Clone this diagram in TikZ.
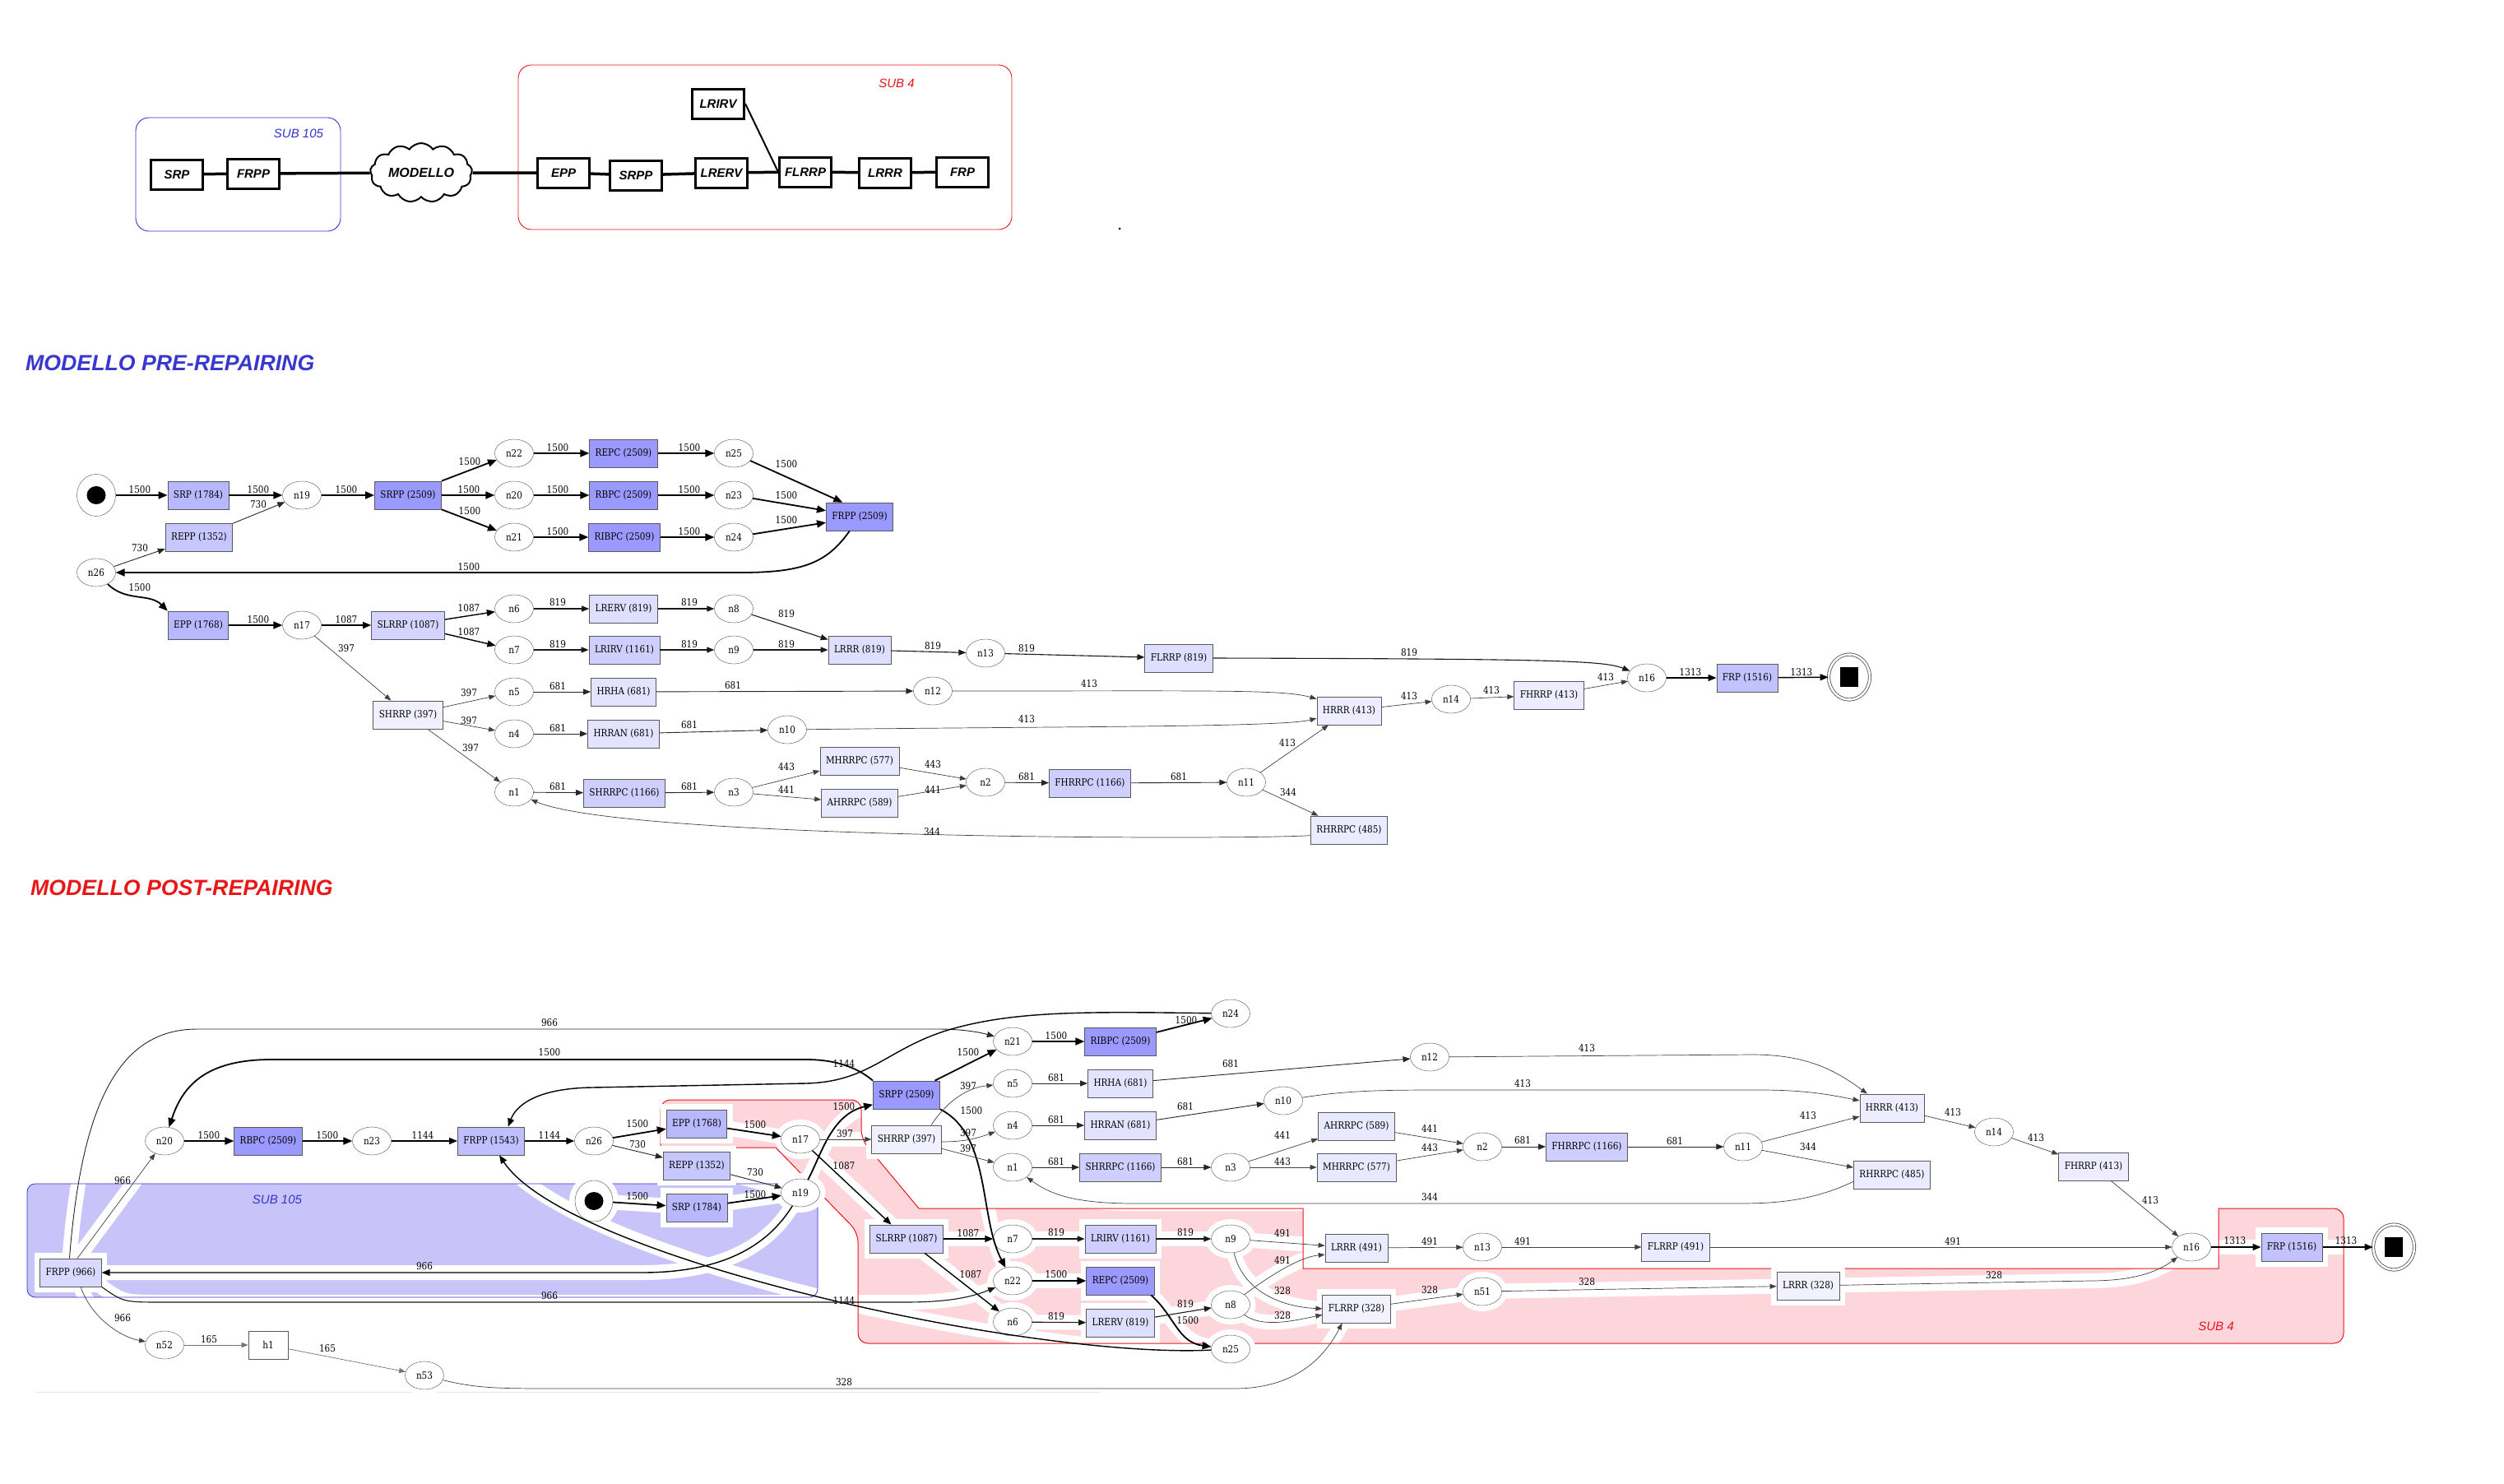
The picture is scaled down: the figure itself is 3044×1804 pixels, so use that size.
\documentclass[tikz,border=0pt]{standalone}
\usepackage{fontspec}
\setmainfont{DejaVu Serif}
\newfontfamily\gvfont{DejaVu Serif}[FakeStretch=0.87]
\newfontfamily\arialfont{Liberation Sans}
\usepackage{tikz}
\usetikzlibrary{arrows.meta, positioning, shapes.geometric, shapes.symbols}
\definecolor{subblue}{RGB}{52,52,204}
\definecolor{subred}{RGB}{232,20,28}
\definecolor{lilac}{RGB}{200,196,250}
\definecolor{blush}{RGB}{252,214,219}
\definecolor{titleblue}{RGB}{56,56,208}
\definecolor{titlered}{RGB}{232,24,24}

\pgfdeclarelayer{bg}
\pgfdeclarelayer{halo}
\pgfdeclarelayer{frame}
\pgfsetlayers{bg,halo,frame,main}

\newcommand{\gvsize}{\gvfont\fontsize{12}{12}\selectfont}
\newcommand{\boldsans}[1]{\arialfont\bfseries\itshape\fontsize{#1}{#1}\selectfont}
\newcommand{\halodraw}[3]{%
  \begin{pgfonlayer}{halo}\draw[band] #2;\end{pgfonlayer}%
  \draw[#1] #2 #3;}

\tikzset{
  st/.style={ellipse, draw=black!70, fill=white, minimum width=47pt, minimum height=34pt, inner sep=0pt, font=\gvsize},
  act/.style={rectangle, draw=black!65, line width=0.8pt, fill=blue!#1!white, minimum height=34pt, inner xsep=7pt, inner ysep=0pt, font=\gvsize},
  startn/.style={ellipse, draw=black!70, fill=white, minimum width=47pt, minimum height=51pt, inner sep=0pt,
    path picture={\fill[black] (path picture bounding box.center) ellipse (11.5pt and 11pt);}},
  endn/.style={ellipse, draw=black!70, line width=0.8pt, double, double distance=2.5pt, fill=white, minimum width=50pt, minimum height=55pt, inner sep=0pt,
    path picture={\fill[black] ([xshift=-11pt,yshift=-12pt]path picture bounding box.center) rectangle ++(22pt,24pt);}},
  hl/.style={preaction={draw=white, line width=14pt}},
  band/.style={draw=white, line width=18pt, line cap=round},
  lbl/.style={font=\gvsize, inner sep=0pt},
  w5/.style={draw=black, line width=1.8pt, -{Triangle[length=11pt,width=9pt]}},
  w4/.style={draw=black, line width=1.4pt, -{Triangle[length=10pt,width=8pt]}},
  w3/.style={draw=black!90, line width=1.1pt, -{Triangle[length=9pt,width=7pt]}},
  w2/.style={draw=black!85, line width=0.9pt, -{Triangle[length=9pt,width=7pt]}},
  w1/.style={draw=black!75, line width=0.7pt, -{Triangle[length=8pt,width=6pt]}},
  w0/.style={draw=black!55, line width=0.7pt, -{Triangle[length=8pt,width=6pt]}},
  blk/.style={rectangle, draw, fill=white, line width=3pt, minimum width=63pt, minimum height=36pt, inner sep=1pt, font=\boldsans{15}},
  link/.style={line width=3.5pt},
  ttl/.style={font=\boldsans{26.7}, anchor=west, inner sep=0pt},
  subl/.style={font=\arialfont\itshape\fontsize{15}{15}\selectfont, inner sep=0pt},
}

\begin{document}
\begin{tikzpicture}[x=1pt,y=-1pt]
\useasboundingbox (0,0) rectangle (3044,1804);

% schema dei sottosistemi
\draw[subblue, line width=0.9pt, rounded corners=16pt] (165,143) rectangle (414,281);
\draw[subred, line width=0.9pt, rounded corners=16pt] (630,79) rectangle (1230,279);
\node[subl, text=subblue] (sub105a) at (363,162) {SUB 105};
\node[subl, text=subred] (sub4a) at (1090,101) {SUB 4};
\node[blk] (sSRP) at (215,212) {SRP};
\node[blk] (sFRPP) at (308,211) {FRPP};
\node[cloud, cloud puffs=13, cloud puff arc=110, aspect=1.9, draw, fill=white, line width=2pt, minimum width=124pt, minimum height=66pt, inner sep=0pt, font=\boldsans{16}] (sMod) at (512,210) {MODELLO};
\node[blk] (sEPP) at (685,210) {EPP};
\node[blk] (sSRPP) at (773,213) {SRPP};
\node[blk] (sLRERV) at (877,210) {LRERV};
\node[blk] (sFLRRP) at (979,209) {FLRRP};
\node[blk] (sLRRR) at (1076,210) {LRRR};
\node[blk] (sFRP) at (1170,209) {FRP};
\node[blk] (sLRIRV) at (873,126) {LRIRV};
\draw[link] (sSRP) -- (sFRPP) (sFRPP) -- (sMod) (sMod) -- (sEPP) (sEPP) -- (sSRPP)
  (sSRPP) -- (sLRERV) (sLRERV) -- (sFLRRP) (sFLRRP) -- (sLRRR) (sLRRR) -- (sFRP);
\draw[line width=2pt] (sLRIRV.east) -- (sFLRRP.west);
\fill (1361,278) circle (1.5pt);

% titoli
\node[ttl, text=titleblue] (ttlPre) at (31,441) {MODELLO PRE-REPAIRING};
\node[ttl, text=titlered] (ttlPost) at (37,1079) {MODELLO POST-REPAIRING};

% modello pre-repairing
\node[startn] (pS) at (117,602) {};
\node[act=28] (pSRP) at (241,602) {SRP (1784)};
\node[st] (p19) at (367,602) {n19};
\node[act=40] (pSRPP) at (496,602) {SRPP (2509)};
\node[st] (p22) at (625,551) {n22};
\node[st] (p20) at (625,602) {n20};
\node[st] (p21) at (625,653) {n21};
\node[act=40] (pREPC) at (758,551) {REPC (2509)};
\node[act=40] (pRBPC) at (758,602) {RBPC (2509)};
\node[act=40] (pRIBPC) at (759,653) {RIBPC (2509)};
\node[st] (p25) at (892,551) {n25};
\node[st] (p23) at (892,602) {n23};
\node[st] (p24) at (892,653) {n24};
\node[act=40] (pFRPP) at (1045,628) {FRPP (2509)};
\node[act=22] (pREPP) at (242,653) {REPP (1352)};
\node[st] (p26) at (117,696) {n26};
\node[act=28] (pEPP) at (241,760) {EPP (1768)};
\node[st] (p17) at (367,760) {n17};
\node[act=17] (pSLRRP) at (496,760) {SLRRP (1087)};
\node[st] (p6) at (625,740) {n6};
\node[st] (p7) at (625,790) {n7};
\node[act=13] (pLRERV) at (758,740) {LRERV (819)};
\node[act=19] (pLRIRV) at (759,790) {LRIRV (1161)};
\node[st] (p8) at (892,740) {n8};
\node[st] (p9) at (892,790) {n9};
\node[act=13] (pLRRR) at (1045,790) {LRRR (819)};
\node[st] (p13) at (1198,794) {n13};
\node[act=13] (pFLRRP) at (1433,800) {FLRRP (819)};
\node[act=6] (pSHRRP) at (496,869) {SHRRP (397)};
\node[st] (p5) at (625,841) {n5};
\node[st] (p4) at (625,892) {n4};
\node[st] (p1) at (625,963) {n1};
\node[act=11] (pHRHA) at (758,841) {HRHA (681)};
\node[act=11] (pHRRAN) at (758,892) {HRRAN (681)};
\node[st] (p10) at (957,887) {n10};
\node[st] (p12) at (1134,840) {n12};
\node[act=19] (pSHRRPC) at (759,964) {SHRRPC (1166)};
\node[st] (p3) at (892,963) {n3};
\node[act=9] (pMHRRPC) at (1045,925) {MHRRPC (577)};
\node[act=9] (pAHRRPC) at (1045,976) {AHRRPC (589)};
\node[st] (p2) at (1198,951) {n2};
\node[act=19] (pFHRRPC) at (1325,952) {FHRRPC (1166)};
\node[st] (p11) at (1515,951) {n11};
\node[act=8] (pRHRRPC) at (1640,1009) {RHRRPC (485)};
\node[act=7] (pHRRR) at (1640,864) {HRRR (413)};
\node[st] (p14) at (1764,850) {n14};
\node[act=7] (pFHRRP) at (1883,845) {FHRRP (413)};
\node[st] (p16) at (2002,824) {n16};
\node[act=24] (pFRP) at (2124,824) {FRP (1516)};
\node[endn] (pE) at (2248,823) {};

\draw[w5] (pS) -- (pSRP) node[lbl] at (170,595) {1500};
\draw[w5] (pSRP) -- (p19) node[lbl] at (314,595) {1500};
\draw[w2] (pREPP) -- (p19) node[lbl] at (314,613) {730};
\draw[w5] (p19) -- (pSRPP) node[lbl] at (421,595) {1500};
\draw[w5] (pSRPP.north east) -- (p22) node[lbl] at (571,561) {1500};
\draw[w5] (pSRPP) -- (p20) node[lbl] at (570,595) {1500};
\draw[w5] (pSRPP.south east) -- (p21) node[lbl] at (571,621) {1500};
\draw[w5] (p22) -- (pREPC) node[lbl] at (678,544) {1500};
\draw[w5] (p20) -- (pRBPC) node[lbl] at (678,595) {1500};
\draw[w5] (p21) -- (pRIBPC) node[lbl] at (678,646) {1500};
\draw[w5] (pREPC) -- (p25) node[lbl] at (838,544) {1500};
\draw[w5] (pRBPC) -- (p23) node[lbl] at (838,595) {1500};
\draw[w5] (pRIBPC) -- (p24) node[lbl] at (838,646) {1500};
\draw[w5] (p25) -- (pFRPP.140) node[lbl] at (956,564) {1500};
\draw[w5] (p23) -- (pFRPP.170) node[lbl] at (956,602) {1500};
\draw[w5] (p24) -- (pFRPP.190) node[lbl] at (956,632) {1500};
\draw[w5] (pFRPP.235) .. controls (1005,685) and (975,696) .. (900,696) -- (p26) node[lbl] at (570,689) {1500};
\draw[w2] (p26) -- (pREPP) node[lbl] at (170,666) {730};
\draw[w5] (p26) to[out=-45,in=135] (pEPP.north west) node[lbl] at (170,714) {1500};
\draw[w5] (pEPP) -- (p17) node[lbl] at (314,753) {1500};
\draw[w4] (p17) -- (pSLRRP) node[lbl] at (421,753) {1087};
\draw[w1] (p17) -- (pSHRRP) node[lbl] at (421,788) {397};
\draw[w4] (pSLRRP) -- (p6) node[lbl] at (570,739) {1087};
\draw[w4] (pSLRRP) -- (p7) node[lbl] at (570,768) {1087};
\draw[w3] (p6) -- (pLRERV) node[lbl] at (678,732) {819};
\draw[w3] (p7) -- (pLRIRV) node[lbl] at (678,783) {819};
\draw[w3] (pLRERV) -- (p8) node[lbl] at (838,732) {819};
\draw[w3] (pLRIRV) -- (p9) node[lbl] at (838,783) {819};
\draw[w3] (p8) -- (pLRRR) node[lbl] at (956,746) {819};
\draw[w3] (p9) -- (pLRRR) node[lbl] at (956,783) {819};
\draw[w3] (pLRRR) -- (p13) node[lbl] at (1134,785) {819};
\draw[w3] (p13) -- (pFLRRP) node[lbl] at (1248,788) {819};
\draw[w3] (pFLRRP.east) .. controls (1890,801) and (1950,803) .. (p16) node[lbl] at (1713,793) {819};
\draw[w1] (pSHRRP) -- (p5) node[lbl] at (570,842) {397};
\draw[w1] (pSHRRP) -- (p4) node[lbl] at (570,876) {397};
\draw[w1] (pSHRRP) -- (p1) node[lbl] at (572,909) {397};
\draw[w2] (p5) -- (pHRHA) node[lbl] at (678,834) {681};
\draw[w2] (p4) -- (pHRRAN) node[lbl] at (678,885) {681};
\draw[w2] (p1) -- (pSHRRPC) node[lbl] at (678,956) {681};
\draw[w2] (pHRHA) -- (p12) node[lbl] at (891,833) {681};
\draw[w2] (pHRRAN) -- (p10) node[lbl] at (838,881) {681};
\draw[w2] (pSHRRPC) -- (p3) node[lbl] at (838,956) {681};
\draw[w1] (p3) -- (pMHRRPC) node[lbl] at (956,932) {443};
\draw[w1] (p3) -- (pAHRRPC) node[lbl] at (956,960) {441};
\draw[w1] (pMHRRPC) -- (p2) node[lbl] at (1134,929) {443};
\draw[w1] (pAHRRPC) -- (p2) node[lbl] at (1134,960) {441};
\draw[w2] (p2) -- (pFHRRPC) node[lbl] at (1248,944) {681};
\draw[w2] (pFHRRPC) -- (p11) node[lbl] at (1433,944) {681};
\draw[w1] (p11) -- (pHRRR) node[lbl] at (1565,903) {413};
\draw[w1] (p11) -- (pRHRRPC) node[lbl] at (1566,963) {344};
\draw[w1] (pRHRRPC.188) .. controls (1520,1021) and (760,1021) .. (p1) node[lbl] at (1133,1011) {344};
\draw[w1] (p12) .. controls (1480,840) and (1560,838) .. (pHRRR.160) node[lbl] at (1324,831) {413};
\draw[w1] (p10) .. controls (1300,883) and (1560,884) .. (pHRRR.193) node[lbl] at (1248,874) {413};
\draw[w1] (pHRRR) -- (p14) node[lbl] at (1713,846) {413};
\draw[w1] (p14) -- (pFHRRP) node[lbl] at (1813,839) {413};
\draw[w1] (pFHRRP) -- (p16) node[lbl] at (1952,823) {413};
\draw[w4] (p16) -- (pFRP) node[lbl] at (2055,817) {1313};
\draw[w4] (pFRP) -- (pE) node[lbl] at (2190,817) {1313};

% modello post-repairing: sottosistemi
\begin{pgfonlayer}{bg}
  \fill[lilac, rounded corners=10pt] (33,1439) rectangle (994,1577);
  \fill[blush] (803,1366) [rounded corners=12pt] -- (803,1337) -- (1047,1337) -- (1047,1385) [sharp corners]
    -- (1117,1469) -- (1584,1469) -- (1584,1542) -- (2697,1542) -- (2697,1469) [rounded corners=12pt]
    -- (2849,1469) -- (2849,1633) -- (1043,1633) -- (1043,1498) [sharp corners] -- (943,1395) -- (803,1395)
    [rounded corners=12pt] -- cycle;
\end{pgfonlayer}
\begin{pgfonlayer}{frame}
  \draw[subblue, line width=0.8pt, rounded corners=10pt] (33,1439) rectangle (994,1577);
  \draw[subred, line width=1pt] (803,1366) [rounded corners=12pt] -- (803,1337) -- (1047,1337) -- (1047,1385) [sharp corners]
    -- (1117,1469) -- (1584,1469) -- (1584,1542) -- (2697,1542) -- (2697,1469) [rounded corners=12pt]
    -- (2849,1469) -- (2849,1633) -- (1043,1633) -- (1043,1498) [sharp corners] -- (943,1395) -- (803,1395)
    [rounded corners=12pt] -- cycle;
\end{pgfonlayer}
\node[subl, text=subblue] (sub105b) at (337,1458) {SUB 105};
\node[subl, text=subred] (sub4b) at (2694,1612) {SUB 4};
\draw[black!10, line width=1pt] (43,1692) -- (1338,1692);

\begin{scope}[every node/.append style=hl]
\node[act=15] (qFRPP9) at (86,1547) {FRPP (966)};
\node[st] (q20) at (200,1387) {n20};
\node[act=40] (qRBPC) at (326,1387) {RBPC (2509)};
\node[st] (q23) at (452,1387) {n23};
\node[act=25] (qFRPP) at (597,1387) {FRPP (1543)};
\node[st] (q26) at (722,1387) {n26};
\node[act=28] (qEPP) at (847,1366) {EPP (1768)};
\node[act=22] (qREPP) at (847,1417) {REPP (1352)};
\node[st] (q17) at (973,1385) {n17};
\node[st] (q19) at (973,1450) {n19};
\node[startn, minimum width=46pt, minimum height=50pt] (qS) at (722,1460) {};
\node[act=28] (qSRP) at (847,1468) {SRP (1784)};
\node[act=40] (qSRPP) at (1102,1331) {SRPP (2509)};
\node[act=6] (qSHRRP) at (1102,1385) {SHRRP (397)};
\node[st] (q21) at (1231,1266) {n21};
\node[act=40] (qRIBPC) at (1362,1266) {RIBPC (2509)};
\node[st] (q24) at (1496,1232) {n24};
\node[st] (q5) at (1231,1317) {n5};
\node[act=11] (qHRHA) at (1362,1317) {HRHA (681)};
\node[st] (q12) at (1738,1285) {n12};
\node[st] (q4) at (1231,1368) {n4};
\node[act=11] (qHRRAN) at (1362,1368) {HRRAN (681)};
\node[st] (q10) at (1560,1338) {n10};
\node[act=9] (qAHRRPC) at (1649,1369) {AHRRPC (589)};
\node[act=9] (qMHRRPC) at (1649,1419) {MHRRPC (577)};
\node[st] (q2) at (1802,1394) {n2};
\node[act=19] (qFHRRPC) at (1929,1394) {FHRRPC (1166)};
\node[st] (q1) at (1231,1419) {n1};
\node[act=19] (qSHRRPC) at (1362,1419) {SHRRPC (1166)};
\node[st] (q3) at (1496,1419) {n3};
\node[act=17] (qSLRRP) at (1102,1506) {SLRRP (1087)};
\node[st] (q7) at (1231,1506) {n7};
\node[act=19] (qLRIRV) at (1362,1506) {LRIRV (1161)};
\node[st] (q9) at (1496,1506) {n9};
\node[act=8] (qLRRR) at (1649,1517) {LRRR (491)};
\node[st] (q13) at (1802,1516) {n13};
\node[act=8] (qFLRRP) at (2037,1516) {FLRRP (491)};
\node[act=7] (qHRRR) at (2300,1347) {HRRR (413)};
\node[st] (q11) at (2119,1394) {n11};
\node[act=8] (qRHRRPC) at (2300,1428) {RHRRPC (485)};
\node[st] (q14) at (2424,1376) {n14};
\node[act=7] (qFHRRP) at (2545,1418) {FHRRP (413)};
\node[st] (q16) at (2664,1516) {n16};
\node[act=24] (qFRP) at (2786,1516) {FRP (1516)};
\node[endn] (qE) at (2910,1516) {};
\node[st] (q22) at (1231,1557) {n22};
\node[act=40] (qREPC) at (1362,1557) {REPC (2509)};
\node[st] (q6) at (1231,1607) {n6};
\node[act=13] (qLRERV) at (1362,1608) {LRERV (819)};
\node[st] (q8) at (1496,1586) {n8};
\node[st] (q25) at (1496,1640) {n25};
\node[act=5] (qFLRRP3) at (1649,1591) {FLRRP (328)};
\node[st] (q51) at (1802,1570) {n51};
\node[act=5] (qLRRR3) at (2198,1563) {LRRR (328)};
\node[st] (q52) at (200,1635) {n52};
\node[act=0, minimum width=48pt] (qh1) at (326,1635) {h1};
\node[st] (q53) at (516,1672) {n53};
\end{scope}

\halodraw{w5}{(q20) -- (qRBPC)}{node[lbl] at (254,1380) {1500}}
\halodraw{w5}{(qRBPC) -- (q23)}{node[lbl] at (398,1380) {1500}}
\halodraw{w4}{(q23) -- (qFRPP)}{node[lbl] at (514,1380) {1144}}
\halodraw{w4}{(qFRPP) -- (q26)}{node[lbl] at (668,1380) {1144}}
\halodraw{w5}{(q26) -- (qEPP)}{node[lbl] at (775,1366) {1500}}
\halodraw{w2}{(q26) -- (qREPP)}{node[lbl] at (775,1391) {730}}
\halodraw{w5}{(qEPP) -- (q17)}{node[lbl] at (918,1367) {1500}}
\halodraw{w2}{(qREPP) -- (q19)}{node[lbl] at (918,1425) {730}}
\halodraw{w5}{(qS) -- (qSRP)}{node[lbl] at (775,1454) {1500}}
\halodraw{w5}{(qSRP) -- (q19)}{node[lbl] at (918,1452) {1500}}
\halodraw{w5}{(q19.60) .. controls (998,1405) and (1010,1355) .. (qSRPP.196)}{node[lbl] at (1026,1345) {1500}}
\halodraw{w1}{(q17) -- (qSHRRP)}{node[lbl] at (1027,1378) {397}}
\halodraw{w4}{(q17) -- (qSLRRP)}{node[lbl] at (1026,1417) {1087}}
\halodraw{w4}{(q19) .. controls (930,1520) and (870,1547) .. (780,1547) -- (qFRPP9)}{node[lbl] at (516,1539) {966}}
\halodraw{w5}{(qSRPP.north west) .. controls (1045,1300) and (1020,1288) .. (980,1288) -- (330,1288) .. controls (250,1288) and (222,1320) .. (q20)}{node[lbl] at (668,1279) {1500}}
\halodraw{w2}{(qFRPP9.95) .. controls (100,1330) and (150,1251) .. (240,1251) -- (1140,1251) .. controls (1175,1251) and (1195,1256) .. (q21)}{node[lbl] at (668,1243) {966}}
\halodraw{w1}{(qFRPP9.65) -- (q20)}{node[lbl] at (149,1435) {966}}
\halodraw{w4}{(q24) .. controls (1330,1230) and (1240,1228) .. (1160,1250) .. controls (1080,1272) and (1060,1315) .. (980,1317) -- (720,1322) .. controls (650,1323) and (627,1345) .. (qFRPP.40)}{node[lbl] at (1026,1293) {1144}}
\halodraw{w4}{(q25) .. controls (1250,1652) and (690,1530) .. (qFRPP.300)}{node[lbl] at (1026,1581) {1144}}
\halodraw{w3}{(qFRPP9.south east) .. controls (150,1583) .. (200,1583) -- (1100,1583) .. controls (1160,1583) and (1185,1575) .. (q22)}{node[lbl] at (668,1575) {966}}
\halodraw{w1}{(qFRPP9.305) .. controls (110,1600) and (145,1625) .. (q52)}{node[lbl] at (149,1602) {966}}
\halodraw{w0}{(q52) -- (qh1)}{node[lbl] at (254,1628) {165}}
\halodraw{w0}{(qh1) -- (q53)}{node[lbl] at (398,1639) {165}}
\halodraw{w1}{(q53) .. controls (580,1688) and (610,1688) .. (680,1688) -- (1500,1688) .. controls (1575,1688) and (1610,1650) .. (qFLRRP3.225)}{node[lbl] at (1026,1680) {328}}
\halodraw{w5}{(qSRPP) -- (q21)}{node[lbl] at (1177,1279) {1500}}
\halodraw{w5}{(qSRPP.south east) .. controls (1205,1380) and (1190,1480) .. (q22)}{node[lbl] at (1181,1350) {1500}}
\halodraw{w5}{(q21) -- (qRIBPC)}{node[lbl] at (1284,1259) {1500}}
\halodraw{w5}{(qRIBPC) -- (q24)}{node[lbl] at (1442,1240) {1500}}
\halodraw{w1}{(qSHRRP.30) .. controls (1150,1340) and (1175,1322) .. (q5)}{node[lbl] at (1177,1320) {397}}
\halodraw{w1}{(qSHRRP.-4) .. controls (1175,1388) and (1190,1383) .. (q4)}{node[lbl] at (1177,1377) {397}}
\halodraw{w1}{(qSHRRP) -- (q1)}{node[lbl] at (1177,1396) {397}}
\halodraw{w2}{(q5) -- (qHRHA)}{node[lbl] at (1284,1310) {681}}
\halodraw{w2}{(q4) -- (qHRRAN)}{node[lbl] at (1284,1361) {681}}
\halodraw{w2}{(q1) -- (qSHRRPC)}{node[lbl] at (1284,1412) {681}}
\halodraw{w2}{(qHRHA) -- (q12)}{node[lbl] at (1496,1293) {681}}
\halodraw{w2}{(qHRRAN) -- (q10)}{node[lbl] at (1441,1345) {681}}
\halodraw{w2}{(qSHRRPC) -- (q3)}{node[lbl] at (1441,1412) {681}}
\halodraw{w1}{(q3) -- (qAHRRPC)}{node[lbl] at (1559,1380) {441}}
\halodraw{w1}{(q3) -- (qMHRRPC)}{node[lbl] at (1559,1412) {443}}
\halodraw{w1}{(qAHRRPC) -- (q2)}{node[lbl] at (1738,1372) {441}}
\halodraw{w1}{(qMHRRPC) -- (q2)}{node[lbl] at (1738,1395) {443}}
\halodraw{w2}{(q2) -- (qFHRRPC)}{node[lbl] at (1851,1386) {681}}
\halodraw{w2}{(qFHRRPC) -- (q11)}{node[lbl] at (2036,1387) {681}}
\halodraw{w1}{(q11) -- (qHRRR)}{node[lbl] at (2198,1356) {413}}
\halodraw{w1}{(q11) -- (qRHRRPC)}{node[lbl] at (2198,1394) {344}}
\halodraw{w1}{(qRHRRPC.190) .. controls (2200,1462) and (2150,1463) .. (2110,1463) -- (1380,1463) .. controls (1300,1463) and (1275,1450) .. (q1)}{node[lbl] at (1738,1455) {344}}
\halodraw{w1}{(q12) -- (2130,1282) .. controls (2195,1282) and (2230,1300) .. (qHRRR.150)}{node[lbl] at (1929,1274) {413}}
\halodraw{w1}{(q10) .. controls (1640,1325) and (1690,1325) .. (1760,1325) -- (2140,1325) .. controls (2200,1325) and (2230,1332) .. (qHRRR.167)}{node[lbl] at (1851,1317) {413}}
\halodraw{w1}{(qHRRR) -- (q14)}{node[lbl] at (2374,1352) {413}}
\halodraw{w1}{(q14) -- (qFHRRP)}{node[lbl] at (2475,1383) {413}}
\halodraw{w1}{(qFHRRP) -- (q16)}{node[lbl] at (2614,1459) {413}}
\halodraw{w4}{(qSLRRP) -- (q7)}{node[lbl] at (1177,1499) {1087}}
\halodraw{w4}{(qSLRRP) -- (q6)}{node[lbl] at (1180,1549) {1087}}
\halodraw{w3}{(q7) -- (qLRIRV)}{node[lbl] at (1284,1498) {819}}
\halodraw{w3}{(qLRIRV) -- (q9)}{node[lbl] at (1441,1498) {819}}
\halodraw{w1}{(q9) -- (qLRRR)}{node[lbl] at (1559,1499) {491}}
\halodraw{w1}{(q9) .. controls (1510,1565) and (1550,1588) .. (qFLRRP3.west)}{node[lbl] at (1559,1569) {328}}
\halodraw{w5}{(q22) -- (qREPC)}{node[lbl] at (1284,1549) {1500}}
\halodraw{w5}{(qREPC.-25) .. controls (1428,1600) and (1432,1632) .. (q25)}{node[lbl] at (1444,1605) {1500}}
\halodraw{w3}{(q6) -- (qLRERV)}{node[lbl] at (1284,1600) {819}}
\halodraw{w3}{(qLRERV) -- (q8)}{node[lbl] at (1441,1585) {819}}
\halodraw{w1}{(q8) .. controls (1545,1550) and (1580,1528) .. (qLRRR.192)}{node[lbl] at (1559,1532) {491}}
\halodraw{w1}{(q8) .. controls (1535,1615) and (1575,1605) .. (qFLRRP3.190)}{node[lbl] at (1559,1599) {328}}
\halodraw{w1}{(qLRRR) -- (q13)}{node[lbl] at (1738,1509) {491}}
\halodraw{w1}{(q13) -- (qFLRRP)}{node[lbl] at (1851,1509) {491}}
\halodraw{w1}{(qFLRRP) -- (q16)}{node[lbl] at (2374,1509) {491}}
\halodraw{w1}{(qFLRRP3) -- (q51)}{node[lbl] at (1738,1568) {328}}
\halodraw{w1}{(q51) -- (qLRRR3)}{node[lbl] at (1929,1558) {328}}
\halodraw{w1}{(qLRRR3) -- (2540,1557) .. controls (2590,1557) and (2620,1548) .. (q16)}{node[lbl] at (2424,1550) {328}}
\halodraw{w4}{(q16) -- (qFRP)}{node[lbl] at (2717,1508) {1313}}
\halodraw{w4}{(qFRP) -- (qE)}{node[lbl] at (2852,1508) {1313}}
\end{tikzpicture}
\end{document}
